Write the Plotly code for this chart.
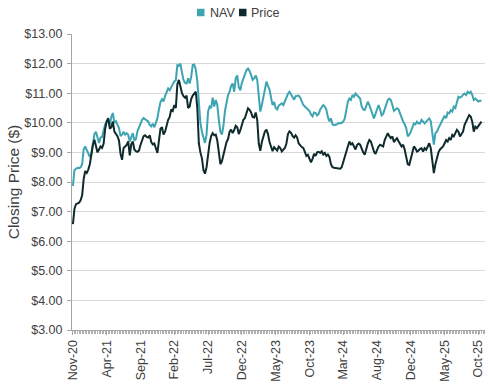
import plotly.graph_objects as go

tick_labels = ["Nov-20", "Apr-21", "Sep-21", "Feb-22", "Jul-22", "Dec-22", "May-23",
               "Oct-23", "Mar-24", "Aug-24", "Dec-24", "May-25", "Oct-25"]
label_step = 22  # one label every 22 weekly observations

nav = [
    7.87, 8.4, 8.45, 8.48, 8.47, 8.5, 8.6, 9.1, 9.2, 9.1,
    8.98, 8.85, 8.95, 9.3, 9.62, 9.7, 9.45, 9.32, 9.5, 9.52,
    9.75, 9.95, 10.04, 10.1, 9.93, 10.2, 10.33, 10.0, 10.05, 9.95,
    9.82, 9.55, 9.6, 9.7, 9.6, 9.65, 9.6, 9.37, 9.55, 9.65,
    9.4, 9.45, 9.71, 9.85, 9.93, 10.1, 10.16, 10.12, 10.1, 10.05,
    9.93, 9.88, 9.97, 9.85, 10.0, 10.15, 10.45, 10.7, 10.8, 10.72,
    10.9, 11.05, 11.16, 11.1, 11.22, 11.33, 11.4, 11.44, 11.95, 11.93,
    12.0, 11.7, 11.45, 11.35, 11.33, 11.5, 11.33, 11.55, 11.95, 11.97,
    11.8, 11.4, 10.6, 10.0, 9.7, 9.5, 9.32, 9.6, 10.38, 10.55,
    10.5, 10.85, 10.55, 10.77, 10.6, 10.1, 9.7, 9.6, 9.9, 10.4,
    10.75, 10.94, 11.05, 11.25, 11.33, 11.05, 11.5, 11.6, 11.2, 11.1,
    11.35, 11.5, 11.62, 11.78, 11.83, 11.75, 11.62, 11.45, 11.5, 11.6,
    11.45, 10.9, 10.38, 10.6, 10.85, 11.16, 11.39, 11.25, 11.12, 10.85,
    10.6, 10.7, 10.5, 10.45, 10.58, 10.62, 10.66, 10.6, 10.75, 10.83,
    10.98, 11.05, 10.95, 10.85, 10.78, 10.9, 10.9, 10.92, 10.85, 10.72,
    10.6, 10.55, 10.5, 10.48, 10.4, 10.28, 10.22, 10.35, 10.33, 10.25,
    10.3, 10.45, 10.55, 10.6, 10.55, 10.45, 10.2, 10.05, 10.15, 9.95,
    9.92, 9.93, 9.95, 10.0, 9.98, 10.0, 10.04, 10.15, 10.43, 10.71,
    10.82, 10.77, 10.94, 10.88, 10.99, 10.94, 10.88, 10.82, 10.55, 10.45,
    10.43, 10.6, 10.71, 10.6, 10.43, 10.32, 10.15, 10.3, 10.49, 10.6,
    10.45, 10.25, 10.3, 10.45, 10.65, 10.77, 10.82, 10.77, 10.6, 10.4,
    10.45, 10.49, 10.45, 10.3, 10.15, 10.04, 9.95, 9.82, 9.54, 9.6,
    9.7, 9.87, 9.98, 9.95, 10.04, 9.98, 9.98, 10.1, 10.04, 9.98,
    10.04, 10.1, 10.15, 10.05, 9.6, 9.26, 9.65, 9.7, 9.82, 9.93,
    10.05, 10.15, 10.24, 10.15, 10.35, 10.32, 10.43, 10.38, 10.55, 10.5,
    10.66, 10.88, 10.85, 10.88, 10.95, 10.99, 10.94, 11.05, 11.0, 11.05,
    10.94, 10.77, 10.82, 10.77, 10.72, 10.74, 10.75,
]

price = [
    6.58, 7.1, 7.25, 7.28, 7.3, 7.38, 7.55, 8.1, 8.37, 8.31,
    8.42, 8.6, 8.95, 9.25, 9.43, 9.2, 9.0, 9.1, 9.2, 9.15,
    9.3, 9.8, 10.05, 10.16, 9.8, 9.85, 10.04, 9.7, 9.62, 9.55,
    9.4, 8.95, 8.75, 9.15, 9.2, 9.25, 9.37, 8.9, 9.28, 9.37,
    9.1, 9.04, 9.02, 9.06, 9.25, 9.45, 9.55, 9.58, 9.52, 9.5,
    9.58, 9.35, 9.27, 9.3, 9.15, 8.98, 9.4, 9.8, 9.85, 9.6,
    9.7, 9.95, 10.1, 10.2, 10.45, 10.4, 10.6, 10.5, 11.3, 11.45,
    11.2, 11.0, 10.9, 10.85, 10.92, 10.5, 10.55, 10.8, 10.92, 11.0,
    11.05, 10.5, 9.3, 9.0, 8.8, 8.4, 8.28, 8.5, 9.0, 9.32,
    9.55, 9.65, 9.58, 9.6, 9.4, 8.95, 8.6, 8.7, 8.93, 9.15,
    9.35, 9.45, 9.7, 9.77, 9.65, 9.75, 9.9, 9.85, 9.62, 9.75,
    9.95, 10.1, 10.16, 10.3, 10.49, 10.44, 10.35, 10.2, 10.18, 10.35,
    10.1, 9.3, 9.05, 9.35, 9.55, 9.71, 9.77, 9.62, 9.35, 9.18,
    9.04, 9.18, 9.1, 9.06, 9.2, 9.15, 9.03, 9.1, 9.15, 9.3,
    9.62, 9.71, 9.66, 9.56, 9.5, 9.58, 9.5, 9.3, 9.22, 9.18,
    9.15, 8.98, 8.88, 8.92, 8.78, 8.66, 8.78, 8.95, 8.88, 9.0,
    9.02, 8.98, 9.04, 8.93, 8.98, 8.88, 8.93, 8.85, 8.6, 8.5,
    8.48, 8.47, 8.45, 8.44, 8.45, 8.5, 8.7, 8.86, 9.1, 9.2,
    9.37, 9.27, 9.31, 9.2, 9.1, 9.25, 9.3, 9.26, 9.1, 9.0,
    8.92, 9.14, 9.3, 9.42, 9.37, 9.2, 9.03, 8.95, 9.08, 9.2,
    9.26, 9.22, 9.2, 9.42, 9.54, 9.65, 9.55, 9.48, 9.54, 9.35,
    9.42, 9.48, 9.38, 9.3, 9.2, 9.26, 9.1, 8.85, 8.6, 8.58,
    8.78, 8.98, 9.2, 9.14, 9.03, 9.06, 9.12, 9.14, 9.03, 9.14,
    9.09, 9.2, 9.31, 9.14, 8.8, 8.3, 8.6, 8.85, 9.0, 9.1,
    9.14, 9.2, 9.31, 9.42, 9.37, 9.48, 9.42, 9.59, 9.54, 9.65,
    9.76, 9.7, 9.54, 9.62, 9.7, 9.93, 10.04, 10.1, 10.26, 10.21,
    10.04, 9.7, 9.87, 9.82, 9.9, 9.98, 10.04,
]

y_ticks = [3, 4, 5, 6, 7, 8, 9, 10, 11, 12, 13]
series_names = ["NAV", "Price"]

NAV_COLOR = "#3da4b1"
PRICE_COLOR = "#0f2a2c"
TEXT = "#404040"
colors = [NAV_COLOR, PRICE_COLOR]

W, H = 490, 384
ML, MR, MT, MB = 72, 5, 34, 54
PW, PH = W - ML - MR, H - MT - MB


def px_to_paper_x(px):
    return (px - ML) / PW


def px_to_paper_y(py):
    return (H - MB - py) / PH


x = list(range(len(nav)))
fig = go.Figure()
for name, vals, col in zip(series_names, [nav, price], colors):
    fig.add_trace(go.Scatter(x=x, y=vals, mode="lines", name=name,
                             line=dict(color=col, width=2), showlegend=False))

# Legend drawn as swatch + label (compact, like the original)
legend_swatch_left = [197, 239]
legend_text_left = [208, 249]
legend_cy = 12.5
for name, col, sx, tx in zip(series_names, colors, legend_swatch_left, legend_text_left):
    fig.add_shape(type="rect", xref="paper", yref="paper",
                  x0=px_to_paper_x(sx), x1=px_to_paper_x(sx + 7.5),
                  y0=px_to_paper_y(legend_cy + 3.75), y1=px_to_paper_y(legend_cy - 3.75),
                  fillcolor=col, line=dict(width=0))
    fig.add_annotation(xref="paper", yref="paper", x=px_to_paper_x(tx), y=px_to_paper_y(legend_cy),
                       text=name, showarrow=False, xanchor="left", yanchor="middle",
                       font=dict(size=12.5, color=TEXT))

tickvals = [i * label_step for i in range(len(tick_labels))]

fig.update_layout(
    width=W, height=H,
    margin=dict(l=ML, r=MR, t=MT, b=MB, autoexpand=False),
    paper_bgcolor="white", plot_bgcolor="white",
    font=dict(family="Liberation Sans, Arial, sans-serif", color=TEXT, size=12),
    showlegend=False,
    xaxis=dict(range=[-0.6, 268.3], tickmode="array", tickvals=tickvals, ticktext=tick_labels,
               tickangle=-90, showgrid=False, showline=True, linecolor="#a6a6a6", linewidth=1,
               ticks="outside", ticklen=4, tickcolor="#a6a6a6", automargin=False,
               minor=dict(dtick=1, tick0=0, ticks="outside", ticklen=3, tickcolor="#b0b0b0",
                          showgrid=False),
               tickfont=dict(size=12.5, color=TEXT), zeroline=False),
    yaxis=dict(range=[3, 13], tickmode="array", tickvals=y_ticks,
               ticktext=[f"${v:.2f}" for v in y_ticks], automargin=False,
               showgrid=True, gridcolor="#d9d9d9", gridwidth=1,
               showline=True, linecolor="#a6a6a6", linewidth=1,
               ticks="outside", ticklen=4, tickcolor="#a6a6a6", ticklabelstandoff=2,
               tickfont=dict(size=12.5, color=TEXT), zeroline=False,
               title=dict(text="Closing Price ($)", font=dict(size=15.5, color=TEXT), standoff=0)),
)

fig.write_html("out.html", config={"displayModeBar": False},
               post_script="document.body.style.margin='0';document.body.style.overflow='hidden';")
